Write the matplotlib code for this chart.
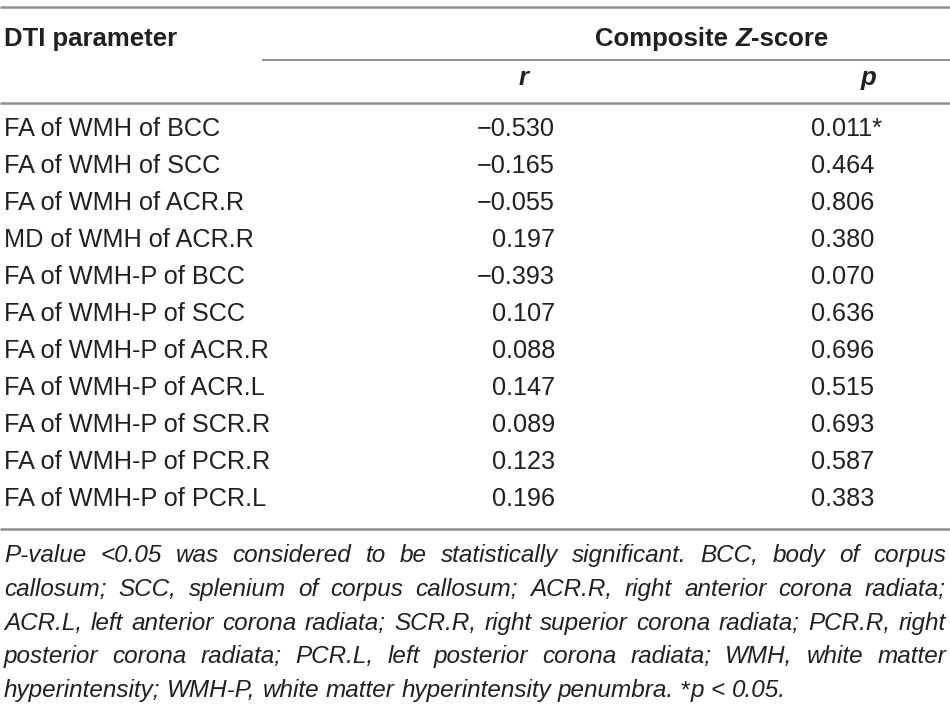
import matplotlib
matplotlib.use("Agg")
import matplotlib.pyplot as plt

# table content
params = [
    "FA of WMH of BCC",
    "FA of WMH of SCC",
    "FA of WMH of ACR.R",
    "MD of WMH of ACR.R",
    "FA of WMH-P of BCC",
    "FA of WMH-P of SCC",
    "FA of WMH-P of ACR.R",
    "FA of WMH-P of ACR.L",
    "FA of WMH-P of SCR.R",
    "FA of WMH-P of PCR.R",
    "FA of WMH-P of PCR.L",
]
r_vals = [-0.530, -0.165, -0.055, 0.197, -0.393, 0.107, 0.088, 0.147, 0.089, 0.123, 0.196]
p_vals = ["0.011*", "0.464", "0.806", "0.380", "0.070", "0.636", "0.696", "0.515", "0.693", "0.587", "0.383"]

footnote_lines = [
    "P-value <0.05 was considered to be statistically significant. BCC, body of corpus",
    "callosum; SCC, splenium of corpus callosum; ACR.R, right anterior corona radiata;",
    "ACR.L, left anterior corona radiata; SCR.R, right superior corona radiata; PCR.R, right",
    "posterior corona radiata; PCR.L, left posterior corona radiata; WMH, white matter",
    "hyperintensity; WMH-P, white matter hyperintensity penumbra. *p < 0.05.",
]

FONT = "Liberation Sans"
TXT = "#231f20"
RULE = "#8f8f8f"
FS = 18.2
FS_HEAD = 18.5
FS_NOTE = 17.5

fig = plt.figure(figsize=(9.5, 7.09), dpi=100)
ax = fig.add_axes([0, 0, 1, 1])
ax.set_xlim(0, 950)
ax.set_ylim(709, 0)
ax.axis("off")
renderer = fig.canvas.get_renderer()


def txt(x, y, s, size=FS, **kw):
    return ax.text(x, y, s, va="baseline", family=FONT, color=TXT,
                   fontsize=size, **kw)


def width_of(t):
    return t.get_window_extent(renderer=renderer).width


# rules
ax.plot([0, 950], [7, 7], color=RULE, lw=1.8, solid_capstyle="butt")
ax.plot([262, 950], [60, 60], color=RULE, lw=1.4, solid_capstyle="butt")
ax.plot([0, 950], [103, 103], color=RULE, lw=1.8, solid_capstyle="butt")
ax.plot([0, 950], [529, 529], color=RULE, lw=1.8, solid_capstyle="butt")

# header
txt(4, 46, "DTI parameter", size=FS_HEAD, fontweight="bold")
head = [("Composite ", {}), ("Z", {"style": "italic"}), ("-score", {})]
parts = [txt(0, 46, s, size=FS_HEAD, fontweight="bold", **st) for s, st in head]
total = sum(width_of(t) for t in parts)
x = 712 - total / 2
for t in parts:
    t.set_x(x)
    x += width_of(t)
txt(524, 85, "r", size=FS_HEAD, ha="center", fontweight="bold", style="italic")
txt(868, 85, "p", size=FS_HEAD, ha="center", fontweight="bold", style="italic")

# body rows
y0, dy = 136.5, 36.9
for i, (name, r, p) in enumerate(zip(params, r_vals, p_vals)):
    y = y0 + i * dy
    txt(4, y, name, ha="left")
    txt(555, y, f"{r:.3f}".replace("-", "\u2212"), ha="right")
    txt(811, y, p, ha="left")

# footnote, justified except the last line
fy0, fdy = 562, 33.8
left, right = 4, 946
probe1 = txt(0, 800, "a b", size=FS_NOTE, style="italic")
probe2 = txt(0, 800, "ab", size=FS_NOTE, style="italic")
normal_space = width_of(probe1) - width_of(probe2)
probe1.remove()
probe2.remove()

for k, line in enumerate(footnote_lines):
    y = fy0 + k * fdy
    groups = []
    for w in line.split(" "):
        if w == "*p":
            groups.append([txt(0, y, "*", size=FS_NOTE),
                           txt(0, y, "p", size=FS_NOTE, style="italic")])
        else:
            groups.append([txt(0, y, w, size=FS_NOTE, style="italic")])
    widths = [sum(width_of(t) for t in g) for g in groups]
    if k == len(footnote_lines) - 1:
        sp = normal_space
    else:
        sp = (right - left - sum(widths)) / (len(groups) - 1)
    x = left
    for g, w in zip(groups, widths):
        xx = x
        for t in g:
            t.set_x(xx)
            xx += width_of(t)
        x += w + sp

fig.savefig("out.png", dpi=100)
